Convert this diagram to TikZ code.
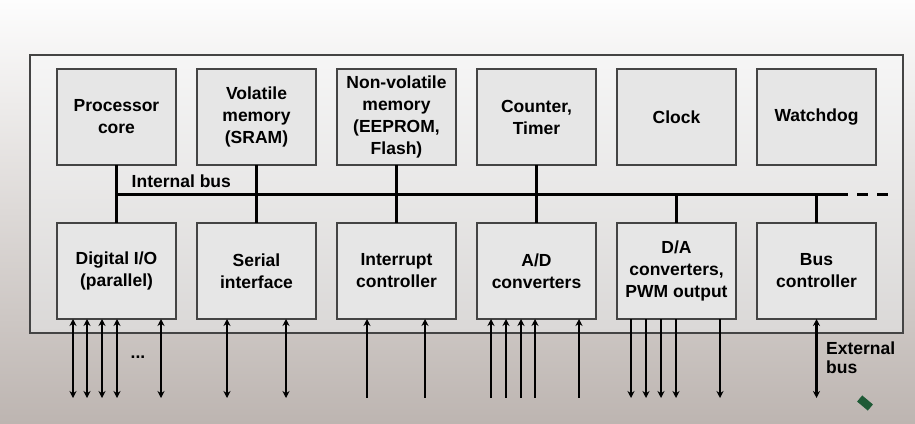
\documentclass[tikz,border=0pt]{standalone}
\usepackage{fontspec}
\setmainfont{Liberation Sans}
\usepackage{xcolor}
\usetikzlibrary{arrows.meta, positioning}

\definecolor{bgtop}{HTML}{FDFDFD}
\definecolor{bgmid}{HTML}{E8E6E5}
\definecolor{bgbot}{HTML}{BDB5B1}
\definecolor{chiptop}{HTML}{F6F6F6}
\definecolor{chipbot}{HTML}{DAD8D7}
\definecolor{boxfill}{HTML}{E6E6E6}
\definecolor{edge}{HTML}{444444}
\definecolor{logo}{HTML}{1E5A36}

\tikzset{
  unit/.style={draw=edge, line width=1.8pt, fill=boxfill, align=center,
    minimum width=119pt, minimum height=96pt, inner sep=2pt, outer sep=0pt,
    font=\bfseries\fontsize{17.5}{22}\selectfont},
  lbl/.style={inner sep=0pt, align=left,
    font=\bfseries\fontsize{17.5}{19}\selectfont},
  bus/.style={line width=3pt},
  io/.style={line width=2.2pt, <->},
  inp/.style={line width=2.2pt, <-},
  outp/.style={line width=2.2pt, ->}
}

\begin{document}
\begin{tikzpicture}[x=1pt, y=-1pt, >={Stealth[length=7pt,width=7pt]}, node distance=21pt]
    % Background
    \shade[top color=bgtop, middle color=bgmid, bottom color=bgbot] (0,0) rectangle (915,423);
    \useasboundingbox (0,0) rectangle (915,423);

    % Chip outline
    \shade[top color=chiptop, bottom color=chipbot] (30,55) rectangle (903,333);
    \draw[edge, line width=1.8pt] (30,55) rectangle (903,333);

    % Upper row
    \node[unit, anchor=north west] (core) at (57,69) {Processor\\core};
    \node[unit, right=of core] (sram) {Volatile\\memory\\(SRAM)};
    \node[unit, right=of sram] (flash) {Non-volatile\\memory\\(EEPROM,\\Flash)};
    \node[unit, right=of flash] (timer) {Counter,\\Timer};
    \node[unit, right=of timer] (clock) {Clock};
    \node[unit, right=of clock] (wdog) {Watchdog};

    % Lower row
    \node[unit, below=58pt of core] (dio) {Digital I/O\\(parallel)};
    \node[unit, below=58pt of sram] (serial) {Serial\\interface};
    \node[unit, below=58pt of flash] (irq) {Interrupt\\controller};
    \node[unit, below=58pt of timer] (adc) {A/D\\converters};
    \node[unit, below=58pt of clock] (dac) {D/A\\converters,\\PWM output};
    \node[unit, below=58pt of wdog] (busctl) {Bus\\controller};

    % Internal bus
    \coordinate (busL) at ([yshift=-29pt]core.south);
    \coordinate (busR) at (848,194);
    \coordinate (busE) at (890,194);
    \draw[bus] (busL) -- (busR);
    \draw[bus, dash pattern=on 11pt off 9pt] ([xshift=9pt]busR) -- (busE);
    \node[lbl, anchor=south west] (ibus) at ([xshift=15pt, yshift=6pt]busL) {Internal bus};

    \foreach \i/\j in {core/dio, sram/serial, flash/irq, timer/adc}
        \draw[bus] (\i) -- (\j);
    \foreach \j in {dac, busctl}
        \draw[bus] (\j.north |- busL) -- (\j);

    % Pins
    \foreach \x in {16, 30, 45, 60, 104}
        \draw[io] ([xshift=\x pt]dio.south west) -- ++(0,79);
    \foreach \x in {30, 89}
        \draw[io] ([xshift=\x pt]serial.south west) -- ++(0,79);
    \foreach \x in {30, 88}
        \draw[inp] ([xshift=\x pt]irq.south west) -- ++(0,79);
    \foreach \x in {14, 29, 44, 58, 102}
        \draw[inp] ([xshift=\x pt]adc.south west) -- ++(0,79);
    \foreach \x in {14, 29, 44, 59, 103}
        \draw[outp] ([xshift=\x pt]dac.south west) -- ++(0,79);
    \draw[io] (busctl.south) -- ++(0,79);

    \node[lbl] (dots) at (138,357) {...};
    \node[lbl, anchor=north west] (ebus) at (826,342) {External\\bus};

    % Logo
    \fill[logo, rotate around={-40:(865,403)}] (858,399) rectangle (872,407);
\end{tikzpicture}
\end{document}
